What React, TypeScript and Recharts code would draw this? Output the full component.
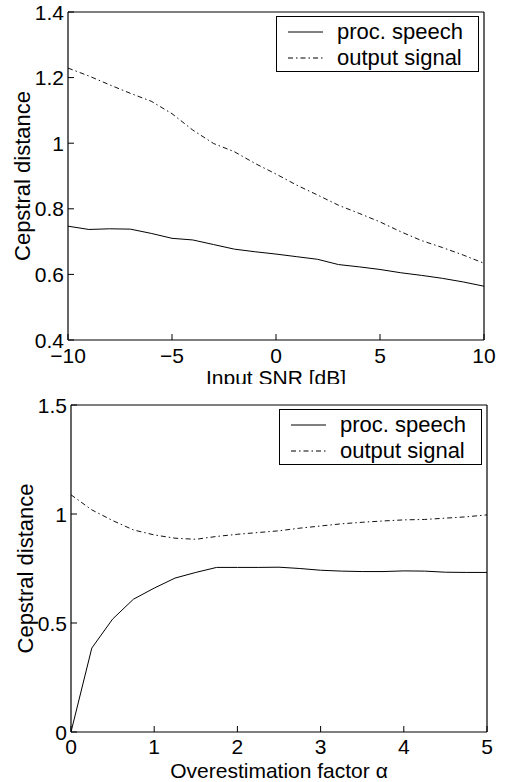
import { LineChart, Line, XAxis, YAxis, Legend } from "recharts";

const FONT = '"Liberation Sans", Arial, Helvetica, sans-serif';
const FS = 21;
const DASH_DOT = "5 3 1.5 3";

// top panel: input SNR sweep
const snrValues = [-10, -9, -8, -7, -6, -5, -4, -3, -2, -1, 0, 1, 2, 3, 4, 5, 6, 7, 8, 9, 10];
const snrProcSpeech = [
  0.747, 0.737, 0.739, 0.738, 0.725, 0.71, 0.705, 0.691, 0.677, 0.669, 0.662,
  0.654, 0.646, 0.63, 0.623, 0.615, 0.605, 0.597, 0.588, 0.577, 0.564,
];
const snrOutputSignal = [
  1.229, 1.205, 1.178, 1.152, 1.128, 1.09, 1.04, 0.999, 0.974, 0.938, 0.906,
  0.872, 0.842, 0.811, 0.786, 0.76, 0.73, 0.703, 0.682, 0.659, 0.634,
];
const snrXTicks = [-10, -5, 0, 5, 10];
const snrXTickLabels = ["\u221210", "\u22125", "0", "5", "10"];
const snrYTicks = [0.4, 0.6, 0.8, 1, 1.2, 1.4];
const snrYTickLabels = ["0.4", "0.6", "0.8", "1", "1.2", "1.4"];

// bottom panel: overestimation factor sweep
const alphaValues = [
  0, 0.25, 0.5, 0.75, 1, 1.25, 1.5, 1.75, 2, 2.25, 2.5, 2.75, 3, 3.25, 3.5,
  3.75, 4, 4.25, 4.5, 4.75, 5,
];
const alphaProcSpeech = [
  0, 0.385, 0.518, 0.609, 0.66, 0.706, 0.732, 0.755, 0.755, 0.755, 0.756,
  0.75, 0.742, 0.738, 0.736, 0.736, 0.739, 0.738, 0.733, 0.732, 0.732,
];
const alphaOutputSignal = [
  1.088, 1.019, 0.97, 0.927, 0.904, 0.889, 0.884, 0.897, 0.907, 0.915, 0.923,
  0.935, 0.945, 0.955, 0.962, 0.968, 0.973, 0.975, 0.981, 0.987, 0.996,
];
const alphaXTicks = [0, 1, 2, 3, 4, 5];
const alphaXTickLabels = ["0", "1", "2", "3", "4", "5"];
const alphaYTicks = [0, 0.5, 1, 1.5];
const alphaYTickLabels = ["0", "0.5", "1", "1.5"];

const seriesNames = ["proc. speech", "output signal"];

const topData = snrValues.map((x, i) => ({
  x,
  speech: snrProcSpeech[i],
  output: snrOutputSignal[i],
}));
const bottomData = alphaValues.map((x, i) => ({
  x,
  speech: alphaProcSpeech[i],
  output: alphaOutputSignal[i],
}));

const labelFor = (ticks: number[], labels: string[], v: number) => {
  const i = ticks.findIndex((t) => Math.abs(t - v) < 1e-9);
  return i >= 0 ? labels[i] : String(v);
};

// inward tick + label, MATLAB style
const makeXTick = (ticks: number[], labels: string[], dy: number) => (props: any) => {
  const { x, y, payload } = props;
  return (
    <g>
      <line x1={x} x2={x} y1={y} y2={y - 6} stroke="#000" strokeWidth={1} />
      <text x={x} y={y + dy} textAnchor="middle" fontSize={FS} fontFamily={FONT} fill="#000">
        {labelFor(ticks, labels, payload.value)}
      </text>
    </g>
  );
};

const makeYTick = (ticks: number[], labels: string[]) => (props: any) => {
  const { x, y, payload } = props;
  return (
    <g>
      <line x1={x} x2={x + 6} y1={y} y2={y} stroke="#000" strokeWidth={1} />
      <text x={x - 4} y={y + 7.5} textAnchor="end" fontSize={FS} fontFamily={FONT} fill="#000">
        {labelFor(ticks, labels, payload.value)}
      </text>
    </g>
  );
};

const LegendBox = () => (
  <div
    style={{
      position: "relative",
      width: 203,
      height: 56,
      boxSizing: "border-box",
      border: "1.5px solid #000",
      background: "#fff",
      fontFamily: FONT,
      fontSize: 22,
      color: "#000",
    }}
  >
    {seriesNames.map((name, i) => (
      <div
        key={name}
        style={{
          position: "absolute",
          left: 0,
          top: i === 0 ? 2 : 28,
          height: 26,
          display: "flex",
          alignItems: "center",
          whiteSpace: "nowrap",
        }}
      >
        <svg width={60} height={26} style={{ display: "block" }}>
          <line
            x1={11}
            x2={46}
            y1={13}
            y2={13}
            stroke="#000"
            strokeWidth={1}
            strokeDasharray={i === 0 ? undefined : DASH_DOT}
          />
        </svg>
        <span style={{ lineHeight: "26px" }}>{name}</span>
      </div>
    ))}
  </div>
);

const yTitle = (cx: number) => (props: any) => {
  const vb = props.viewBox || {};
  const cy = (vb.y ?? 0) + (vb.height ?? 0) / 2;
  return (
    <text
      x={cx}
      y={cy}
      transform={`rotate(-90, ${cx}, ${cy})`}
      textAnchor="middle"
      dominantBaseline="central"
      fontSize={22}
      fontFamily={FONT}
      fill="#000"
    >
      Cepstral distance
    </text>
  );
};

const xTitle = (text: string, baseline: number) => (props: any) => {
  const vb = props.viewBox || {};
  const cx = (vb.x ?? 0) + (vb.width ?? 0) / 2;
  return (
    <text x={cx} y={baseline} textAnchor="middle" fontSize={FS} fontFamily={FONT} fill="#000">
      {text}
    </text>
  );
};

interface PanelProps {
  data: any[];
  width: number;
  height: number;
  margin: { top: number; right: number; bottom: number; left: number };
  yWidth: number;
  xDomain: [number, number];
  yDomain: [number, number];
  xTicks: number[];
  xTickLabels: string[];
  xTickDy: number;
  yTicks: number[];
  yTickLabels: string[];
  xLabel: string;
  xLabelBaseline: number;
  yLabelX: number;
  legendTop: number;
  legendLeft: number;
}

const Panel = (p: PanelProps) => (
  <LineChart width={p.width} height={p.height} data={p.data} margin={p.margin}>
    <XAxis
      dataKey="x"
      type="number"
      domain={p.xDomain}
      ticks={p.xTicks}
      allowDataOverflow
      height={50}
      tickSize={0}
      tickMargin={0}
      tickLine={false}
      axisLine={{ stroke: "#000", strokeWidth: 1.2 }}
      tick={makeXTick(p.xTicks, p.xTickLabels, p.xTickDy)}
      interval={0}
      label={xTitle(p.xLabel, p.xLabelBaseline)}
    />
    <XAxis
      xAxisId="top"
      dataKey="x"
      type="number"
      orientation="top"
      mirror
      domain={p.xDomain}
      ticks={p.xTicks}
      tickSize={6}
      tick={false}
      tickLine={{ stroke: "#000" }}
      axisLine={{ stroke: "#000", strokeWidth: 1.2 }}
      interval={0}
    />
    <YAxis
      type="number"
      domain={p.yDomain}
      ticks={p.yTicks}
      allowDataOverflow
      width={p.yWidth}
      tickSize={0}
      tickMargin={0}
      tickLine={false}
      axisLine={{ stroke: "#000", strokeWidth: 1.2 }}
      tick={makeYTick(p.yTicks, p.yTickLabels)}
      interval={0}
      label={yTitle(p.yLabelX)}
    />
    <YAxis
      yAxisId="right"
      type="number"
      orientation="right"
      mirror
      domain={p.yDomain}
      ticks={p.yTicks}
      tickSize={6}
      tick={false}
      tickLine={{ stroke: "#000" }}
      axisLine={{ stroke: "#000", strokeWidth: 1.2 }}
      interval={0}
    />
    <Legend
      layout="vertical"
      align="center"
      verticalAlign="middle"
      content={() => <LegendBox />}
      wrapperStyle={{ top: p.legendTop, left: p.legendLeft, width: 203, height: 56 }}
    />
    <Line
      type="linear"
      dataKey="speech"
      name={seriesNames[0]}
      stroke="#000"
      strokeWidth={1}
      dot={false}
      activeDot={false}
      isAnimationActive={false}
    />
    <Line
      type="linear"
      dataKey="output"
      name={seriesNames[1]}
      stroke="#111"
      strokeWidth={1}
      strokeDasharray={DASH_DOT}
      dot={false}
      activeDot={false}
      isAnimationActive={false}
    />
  </LineChart>
);

export default function App() {
  return (
    <div
      style={{
        position: "absolute",
        top: 0,
        left: 0,
        width: 505,
        height: 782,
        background: "#fff",
        fontFamily: FONT,
      }}
    >
      {/* upper figure, its x-label is cut off at the bottom like the scan */}
      <div style={{ position: "absolute", top: 0, left: 0, width: 505, height: 384, overflow: "hidden" }}>
        <Panel
          data={topData}
          width={505}
          height={390}
          margin={{ top: 12, right: 21, bottom: 0, left: 0 }}
          yWidth={68}
          xDomain={[-10, 10]}
          yDomain={[0.4, 1.4]}
          xTicks={snrXTicks}
          xTickLabels={snrXTickLabels}
          xTickDy={23}
          yTicks={snrYTicks}
          yTickLabels={snrYTickLabels}
          xLabel="Input SNR [dB]"
          xLabelBaseline={385}
          yLabelX={22}
          legendTop={16}
          legendLeft={276}
        />
      </div>
      <div style={{ position: "absolute", top: 384, left: 0, width: 505, height: 398, overflow: "hidden" }}>
        <Panel
          data={bottomData}
          width={505}
          height={398}
          margin={{ top: 21, right: 18, bottom: 0, left: 0 }}
          yWidth={71}
          xDomain={[0, 5]}
          yDomain={[0, 1.5]}
          xTicks={alphaXTicks}
          xTickLabels={alphaXTickLabels}
          xTickDy={22}
          yTicks={alphaYTicks}
          yTickLabels={alphaYTickLabels}
          xLabel={"Overestimation factor \u03b1"}
          xLabelBaseline={393.5}
          yLabelX={25}
          legendTop={25}
          legendLeft={279}
        />
      </div>
    </div>
  );
}
